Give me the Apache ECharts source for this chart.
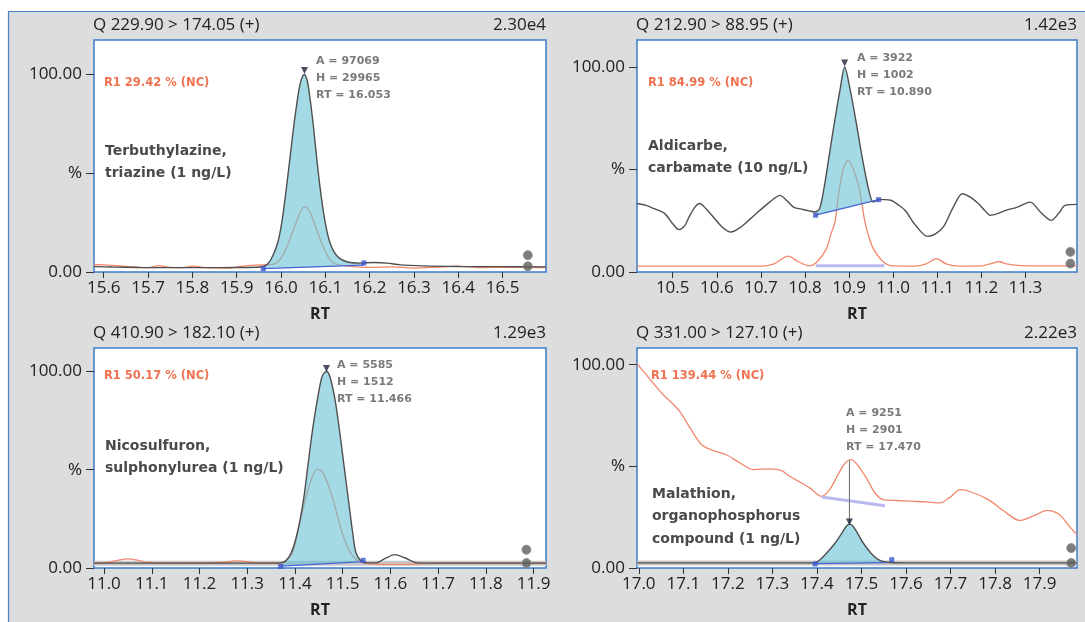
<!DOCTYPE html>
<html><head><meta charset="utf-8">
<script src="https://cdn.jsdelivr.net/npm/echarts@6/dist/echarts.min.js"></script>
<style>html,body{margin:0;padding:0;background:#fff}#c{width:1085px;height:622px}</style>
</head><body><div id="c"></div>
<script>
// ---------------- DATA ----------------
const titlesLeft = ['Q 229.90 > 174.05 (+)', 'Q 212.90 > 88.95 (+)', 'Q 410.90 > 182.10 (+)', 'Q 331.00 > 127.10 (+)'];
const titlesRight = ['2.30e4', '1.42e3', '1.29e3', '2.22e3'];
const r1Labels = ['R1 29.42 % (NC)', 'R1 84.99 % (NC)', 'R1 50.17 % (NC)', 'R1 139.44 % (NC)'];
const peakInfo = [
  ['A = 97069', 'H = 29965', 'RT = 16.053'],
  ['A = 3922', 'H = 1002', 'RT = 10.890'],
  ['A = 5585', 'H = 1512', 'RT = 11.466'],
  ['A = 9251', 'H = 2901', 'RT = 17.470']
];
const compounds = [
  ['Terbuthylazine,', 'triazine (1 ng/L)'],
  ['Aldicarbe,', 'carbamate (10 ng/L)'],
  ['Nicosulfuron,', 'sulphonylurea (1 ng/L)'],
  ['Malathion,', 'organophosphorus', 'compound (1 ng/L)']
];
const yTickValues = [0, 50, 100];
const yTickLabels = ['0.00', '%', '100.00'];
const xAxisName = 'RT';

const p1Ticks = [15.6, 15.7, 15.8, 15.9, 16.0, 16.1, 16.2, 16.3, 16.4, 16.5];
const p2Ticks = [10.5, 10.6, 10.7, 10.8, 10.9, 11.0, 11.1, 11.2, 11.3];
const p3Ticks = [11.0, 11.1, 11.2, 11.3, 11.4, 11.5, 11.6, 11.7, 11.8, 11.9];
const p4Ticks = [17.0, 17.1, 17.2, 17.3, 17.4, 17.5, 17.6, 17.7, 17.8, 17.9];
const xRanges = [[15.578, 16.598], [10.419, 11.417], [10.979, 11.926], [16.996, 17.984]];
const yMaxes = [117.5, 113.2, 111.9, 108.2];

// Panel 1 : Terbuthylazine
const p1Quan = [[15.578,2.7],[15.62,2.5],[15.68,2.3],[15.75,2.2],[15.82,2.2],[15.9,2.3],[15.945,2.4],[15.96,2.8],[15.971,4.3],[15.982,8.5],[15.993,15.2],[16.002,25.4],[16.012,42.3],[16.021,59.2],[16.030,76],[16.041,93],[16.047,98.3],[16.053,100],[16.057,98.5],[16.061,95],[16.071,78],[16.079,61],[16.088,43],[16.099,26],[16.110,15.2],[16.125,8.5],[16.148,5.2],[16.178,4.5],[16.21,4.8],[16.24,4.5],[16.27,3.6],[16.32,3.1],[16.4,2.8],[16.5,2.7],[16.598,2.6]];
const p1Qual = [[15.578,3.8],[15.6,3.6],[15.63,3.2],[15.66,2.6],[15.7,2.2],[15.725,3.2],[15.75,2.3],[15.78,2.2],[15.8,3.0],[15.83,2.2],[15.88,2.0],[15.91,2.8],[15.94,3.5],[15.97,3.6],[15.99,4.5],[16.0,7],[16.012,11.9],[16.024,19],[16.035,25.4],[16.045,31],[16.054,33],[16.064,31],[16.074,25.4],[16.086,18],[16.097,11.9],[16.108,7],[16.121,4.3],[16.15,3.0],[16.2,2.3],[16.25,2.6],[16.3,2.0],[16.35,2.4],[16.4,3.0],[16.45,2.2],[16.5,2.4],[16.598,2.2]];
const p1Base = [[15.960,1.7],[16.187,3.5]];
const p1Marks = [[15.960,1.7],[16.187,4.6]];
const p1Apex = [[16.053,102]];
const p1Ends = [[16.557,8.5],[16.557,2.9]];

// Panel 2 : Aldicarbe
const p2Quan = [[10.419,33.4],[10.44,32.5],[10.458,30.9],[10.482,28.5],[10.50,23.5],[10.514,20.7],[10.527,22.5],[10.537,26.8],[10.55,31.5],[10.561,33.4],[10.575,31],[10.592,26.8],[10.612,22],[10.632,19.5],[10.652,21.5],[10.672,25.2],[10.692,29],[10.711,32.5],[10.728,35.5],[10.743,37.4],[10.758,35],[10.774,31.7],[10.795,30.5],[10.81,29.8],[10.822,29.3],[10.833,30.9],[10.843,40.7],[10.855,56.9],[10.867,73.2],[10.880,89.5],[10.890,100],[10.902,89.5],[10.916,73.2],[10.929,56.9],[10.944,40.7],[10.955,34.1],[10.967,35.3],[10.98,35.3],[10.995,35],[11.01,33],[11.027,30.1],[11.05,23],[11.078,17.4],[11.095,18.5],[11.114,22],[11.135,31],[11.157,38.2],[11.175,36.5],[11.193,33.4],[11.208,30],[11.220,27.7],[11.237,28.5],[11.256,30.1],[11.28,31.5],[11.311,34.1],[11.335,29],[11.359,25.2],[11.375,28.5],[11.39,32.5],[11.417,33]];
const p2Qual = [[10.419,2.9],[10.5,2.9],[10.6,2.9],[10.7,2.9],[10.73,4],[10.762,7.7],[10.785,5],[10.81,3],[10.827,4.9],[10.849,11.4],[10.858,18],[10.868,24.4],[10.878,40.7],[10.888,51],[10.898,54.5],[10.91,50],[10.923,40.7],[10.936,24.4],[10.945,17],[10.955,11.4],[10.978,4.9],[11.0,3],[11.05,2.9],[11.075,4],[11.098,6.5],[11.12,4],[11.15,2.9],[11.2,3],[11.22,4],[11.24,5],[11.26,3.8],[11.3,3],[11.417,3]];
const p2Base = [[10.824,27.7],[10.967,35.3]];
const p2Marks = [[10.824,27.7],[10.967,35.3]];
const p2Apex = [[10.890,102]];
const p2Ends = [[11.402,9.8],[11.402,4.1]];
const p2QualBase = [[10.825,3.0],[10.98,3.0]];

// Panel 3 : Nicosulfuron
const p3Quan = [[10.979,2.5],[11.1,2.5],[11.2,2.5],[11.3,2.5],[11.36,2.5],[11.370,2.6],[11.38,3.5],[11.392,7.6],[11.405,17.8],[11.418,34.7],[11.427,51.7],[11.436,68.7],[11.447,85.6],[11.457,97.5],[11.466,100],[11.473,97.5],[11.484,85.6],[11.494,68.7],[11.503,51.7],[11.512,34.7],[11.521,17.8],[11.528,7.6],[11.539,3.5],[11.55,2.6],[11.569,2.6],[11.59,5],[11.609,6.8],[11.63,5.2],[11.657,2.6],[11.7,2.5],[11.8,2.5],[11.926,2.5]];
const p3Qual = [[10.979,2.5],[11.01,2.8],[11.03,4.0],[11.05,4.6],[11.07,4.0],[11.09,2.8],[11.15,2.5],[11.25,2.8],[11.27,3.5],[11.285,3.6],[11.3,3.2],[11.32,2.6],[11.37,2.6],[11.38,3.4],[11.395,7.6],[11.405,17.8],[11.422,34.7],[11.435,45.5],[11.447,50.3],[11.46,48],[11.48,34.7],[11.499,17.8],[11.517,7.6],[11.535,3.4],[11.57,2.0],[11.61,1.8],[11.65,2.0],[11.7,2.5],[11.926,2.5]];
const p3Base = [[11.370,1.0],[11.543,3.2]];
const p3Marks = [[11.370,0.8],[11.543,3.9]];
const p3Apex = [[11.466,101.5]];
const p3Ends = [[11.885,9.3],[11.885,2.5]];
const p3Band = [[10.979,2.4],[11.926,2.4]];

// Panel 4 : Malathion
const p4Quan = [[16.996,2.5],[17.1,2.5],[17.2,2.5],[17.3,2.5],[17.38,2.5],[17.396,2.6],[17.407,4.1],[17.422,7.4],[17.441,12.3],[17.456,17.2],[17.466,20.5],[17.473,21.6],[17.48,20.8],[17.491,17.2],[17.504,12.3],[17.521,7.4],[17.538,4.1],[17.557,2.8],[17.6,2.5],[17.7,2.5],[17.8,2.5],[17.984,2.5]];
const p4Qual = [[16.996,100.5],[17.029,91.8],[17.055,85.2],[17.075,81],[17.092,77],[17.115,68.9],[17.141,60.6],[17.165,58],[17.197,55.7],[17.225,52],[17.257,48.4],[17.295,48.8],[17.32,48],[17.339,45.1],[17.36,42.5],[17.384,39.4],[17.411,35.2],[17.43,39],[17.45,47],[17.465,52],[17.477,53.3],[17.49,51],[17.512,44],[17.53,37],[17.549,33.6],[17.58,33.2],[17.617,32.8],[17.645,32.5],[17.677,32],[17.70,35],[17.722,38.5],[17.745,37.5],[17.785,33.6],[17.82,28],[17.855,23.4],[17.885,25.5],[17.918,28.3],[17.935,27.5],[17.949,25.4],[17.965,21],[17.984,16.4]];
const p4Base = [[17.396,2.2],[17.557,2.6]];
const p4Marks = [[17.396,2.0],[17.568,4.1]];
const p4Apex = [[17.473,22.6]];
const p4Ends = [[17.971,9.8],[17.971,2.5]];
const p4Band = [[16.996,2.4],[17.984,2.4]];
const p4QualBase = [[17.411,34.9],[17.553,30.6]];
const p4RtLine = [[17.473,53.0],[17.473,22.0]];

// ---------------- LAYOUT ----------------
const FONT = '"Open Sans", "Noto Sans", sans-serif';
const grids = [
  {left: 94, top: 40, width: 452, height: 232},
  {left: 637, top: 40, width: 440, height: 232},
  {left: 94, top: 348, width: 452, height: 220},
  {left: 637, top: 348, width: 440, height: 220}
];
const panels = [
  {ticks: p1Ticks, quan: p1Quan, qual: p1Qual, base: p1Base, marks: p1Marks, apex: p1Apex, ends: p1Ends},
  {ticks: p2Ticks, quan: p2Quan, qual: p2Qual, base: p2Base, marks: p2Marks, apex: p2Apex, ends: p2Ends, lav: p2QualBase},
  {ticks: p3Ticks, quan: p3Quan, qual: p3Qual, base: p3Base, marks: p3Marks, apex: p3Apex, ends: p3Ends, band: p3Band},
  {ticks: p4Ticks, quan: p4Quan, qual: p4Qual, base: p4Base, marks: p4Marks, apex: p4Apex, ends: p4Ends, band: p4Band, lav: p4QualBase, rt: p4RtLine}
];

const xAxes = [], yAxes = [], series = [];
panels.forEach((p, i) => {
  xAxes.push({
    type: 'value', gridIndex: i, min: xRanges[i][0], max: xRanges[i][1],
    axisLine: {show: false}, splitLine: {show: false},
    axisTick: {show: true, customValues: p.ticks, length: 6, lineStyle: {color: '#333', width: 1}},
    axisLabel: {customValues: p.ticks, formatter: v => v.toFixed(1), fontSize: 17, fontFamily: FONT, color: '#222', margin: 8},
    name: xAxisName, nameLocation: 'middle', nameGap: 34,
    nameTextStyle: {fontFamily: FONT, fontWeight: 'bold', fontSize: 16, color: '#222'}
  });
  yAxes.push({
    type: 'value', gridIndex: i, min: 0, max: yMaxes[i],
    axisLine: {show: false}, splitLine: {show: false},
    axisTick: {show: true, customValues: yTickValues, length: 8, lineStyle: {color: '#333', width: 1}},
    axisLabel: {customValues: yTickValues, formatter: v => yTickLabels[yTickValues.indexOf(v)], fontSize: 17, fontFamily: FONT, color: '#222', margin: 12}
  });
  const ax = {xAxisIndex: i, yAxisIndex: i, silent: true, animation: false};
  if (p.band) series.push({type: 'line', ...ax, data: p.band, symbol: 'none', lineStyle: {color: '#c8c8c8', width: 5}, z: 1});
  series.push({type: 'line', ...ax, data: p.qual, symbol: 'none', smooth: 0.3, lineStyle: {color: '#f2876c', width: 1.3}, z: 2});
  if (p.lav) series.push({type: 'line', ...ax, data: p.lav, symbol: 'none', lineStyle: {color: '#b9b9ef', width: 3}, z: 2});
  const b0 = p.base[0], b1 = p.base[1];
  const poly = [b0].concat(p.quan.filter(d => d[0] > b0[0] && d[0] < b1[0])).concat([b1]);
  series.push({
    type: 'custom', ...ax, data: [0], z: 3, clip: true,
    renderItem: (params, api) => ({
      type: 'polygon',
      shape: {points: poly.map(d => api.coord(d)), smooth: 0.25},
      style: {fill: 'rgba(104,194,212,0.6)'}
    })
  });
  series.push({type: 'line', ...ax, data: p.quan, symbol: 'none', smooth: 0.3, lineStyle: {color: '#4f4f4f', width: 1.4}, z: 4});
  series.push({type: 'line', ...ax, data: p.base, symbol: 'none', lineStyle: {color: '#4a66d6', width: 1.3}, z: 5});
  if (p.rt) series.push({type: 'line', ...ax, data: p.rt, symbol: 'none', lineStyle: {color: '#6a6a6a', width: 1}, z: 5});
  series.push({type: 'scatter', ...ax, data: p.marks, symbol: 'rect', symbolSize: 5, itemStyle: {color: '#3a55cc'}, z: 6});
  series.push({type: 'scatter', ...ax, data: p.apex, symbol: 'triangle', symbolRotate: 180, symbolSize: 7, itemStyle: {color: '#1d2238'}, z: 6});
  series.push({type: 'scatter', ...ax, data: p.ends, symbol: 'circle', symbolSize: 9, itemStyle: {color: '#5c5c5c', borderColor: '#888', borderWidth: 1}, z: 6});
});

// text annotations
const graphics = [{
  type: 'rect', z: -10, silent: true,
  shape: {x: 8.5, y: 11.5, width: 1200, height: 800},
  style: {fill: '#dcdddf', stroke: '#4a80c8', lineWidth: 1.2}
}];
function txt(x, y, text, size, weight, color, family, align) {
  graphics.push({type: 'text', x: x, y: y, z: 100, silent: true,
    style: {text: text, fontSize: size, fontWeight: weight, fontFamily: family || FONT, fill: color, align: align || 'left', verticalAlign: 'middle'}});
}
const titleY = [25, 25, 333, 333];
grids.forEach((g, i) => {
  txt(g.left - 1, titleY[i], titlesLeft[i], 17, 'normal', '#222');
  txt(g.left + g.width, titleY[i], titlesRight[i], 17, 'normal', '#222', null, 'right');
});
const r1Pos = [[104, 83], [648, 83], [104, 376], [651, 376]];
r1Labels.forEach((t, i) => txt(r1Pos[i][0], r1Pos[i][1], t, 11.5, 'bold', '#f07250', '"DejaVu Sans", sans-serif'));
const infoPos = [[316, 61], [857, 58], [337, 365], [846, 413]];
peakInfo.forEach((lines, i) => lines.forEach((t, k) => txt(infoPos[i][0], infoPos[i][1] + k * 17, t, 11, 'bold', '#7a7a7a', '"DejaVu Sans", sans-serif')));
const compPos = [[105, 151], [648, 146], [105, 446], [652, 494]];
compounds.forEach((lines, i) => lines.forEach((t, k) => txt(compPos[i][0], compPos[i][1] + k * 22.5, t, 14, 'bold', '#4a4a4a', '"DejaVu Sans", sans-serif')));

const chart = echarts.init(document.getElementById('c'), null, {renderer: 'canvas'});
chart.setOption({
  animation: false,
  backgroundColor: '#ffffff',
  grid: grids.map(g => Object.assign({show: true, backgroundColor: '#ffffff', borderColor: '#3d7bc8', borderWidth: 1.5, containLabel: false}, g)),
  xAxis: xAxes,
  yAxis: yAxes,
  series: series,
  graphic: graphics
});
</script></body></html>
